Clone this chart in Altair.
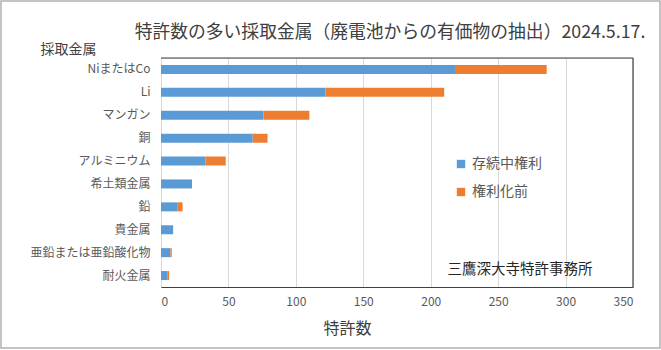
import altair as alt
import pandas as pd

metals = ["NiまたはCo", "Li", "マンガン", "銅", "アルミニウム", "希土類金属", "鉛", "貴金属", "亜鉛または亜鉛酸化物", "耐火金属"]
active = [218, 122, 76, 68, 33, 23, 12, 9, 7, 5]
pending = [68, 88, 34, 11, 15, 0, 4, 0, 1, 1]
series = ["存続中権利", "権利化前"]
colors = ["#5B9BD5", "#ED7D31"]
x_ticks = [0, 50, 100, 150, 200, 250, 300, 350]
title_text = "特許数の多い採取金属（廃電池からの有価物の抽出）2024.5.17."
credit = ["三鷹深大寺特許事務所"]

FONT = "Noto Sans CJK JP"
W, H = 472, 229

rows = []
for m, a, p in zip(metals, active, pending):
    rows.append({"metal": m, "series": series[0], "count": a, "ord": 0})
    rows.append({"metal": m, "series": series[1], "count": p, "ord": 1})
df = pd.DataFrame(rows)

bars = alt.Chart(df).mark_bar(size=9).encode(
    y=alt.Y("metal:N", sort=metals,
            scale=alt.Scale(paddingInner=0.6, paddingOuter=0.3),
            axis=alt.Axis(title="採取金属", titleAngle=0, titleX=-93, titleY=-9,
                          titleAlign="center", titleBaseline="middle",
                          titleFontSize=14, titleFontWeight="normal", titleColor="#404040",
                          titleFont=FONT,
                          labelFont=FONT, labelFontSize=12, labelColor="#595959",
                          labelPadding=11, domain=False, ticks=False, grid=False)),
    x=alt.X("count:Q", stack="zero",
            scale=alt.Scale(domain=[0, 350], nice=False),
            axis=alt.Axis(values=x_ticks, title="特許数", titleX=186, titleY=41,
                          titleAlign="center", titleBaseline="middle",
                          titleFontSize=16, titleFontWeight="normal", titleColor="#404040",
                          titleFont=FONT,
                          labelFont=FONT, labelFontSize=12, labelColor="#595959",
                          labelPadding=9, ticks=False, domainColor="#404040",
                          domainWidth=1.2, gridColor="#d9d9d9", gridWidth=1)),
    color=alt.Color("series:N", sort=series,
                    scale=alt.Scale(domain=series, range=colors),
                    legend=alt.Legend(title=None, orient="none", legendX=293, legendY=99,
                                      symbolType="square", symbolSize=70,
                                      symbolStrokeWidth=0, labelFont=FONT,
                                      labelFontSize=14, labelColor="#595959",
                                      rowPadding=14, labelOffset=4)),
    order=alt.Order("ord:Q"),
)

top_rule = alt.Chart(pd.DataFrame({"v": [0]})).mark_rule(color="#404040", strokeWidth=1.2).encode(
    x=alt.value(0), x2=alt.value(W), y=alt.value(0))
right_rule = alt.Chart(pd.DataFrame({"v": [0]})).mark_rule(color="#404040", strokeWidth=1.2).encode(
    x=alt.value(W), y=alt.value(0), y2=alt.value(H))
frame = alt.Chart(pd.DataFrame({"v": [0]})).mark_rect(fill=None, stroke="#b0b0b0", strokeWidth=1.5).encode(
    x=alt.value(-160), x2=alt.value(499), y=alt.value(-57), y2=alt.value(290))
credit_text = alt.Chart(pd.DataFrame({"t": credit})).mark_text(
    font=FONT, fontSize=14.5, color="#262626", align="center", baseline="middle").encode(
    text="t:N", x=alt.value(359), y=alt.value(212))

chart = alt.layer(bars, top_rule, right_rule, credit_text, frame).properties(
    width=W, height=H,
    title=alt.TitleParams(title_text, font=FONT, fontSize=17.8, fontWeight="normal",
                          color="#404040", anchor="middle", dx=-7, offset=-42,
                          frame="group"),
    autosize=alt.AutoSizeParams(type="none"),
    padding={"left": 161, "top": 58, "right": 28, "bottom": 63},
).configure_view(stroke=None).configure(background="white")

chart.save("out.html", embed_options={"renderer": "svg", "actions": False})
